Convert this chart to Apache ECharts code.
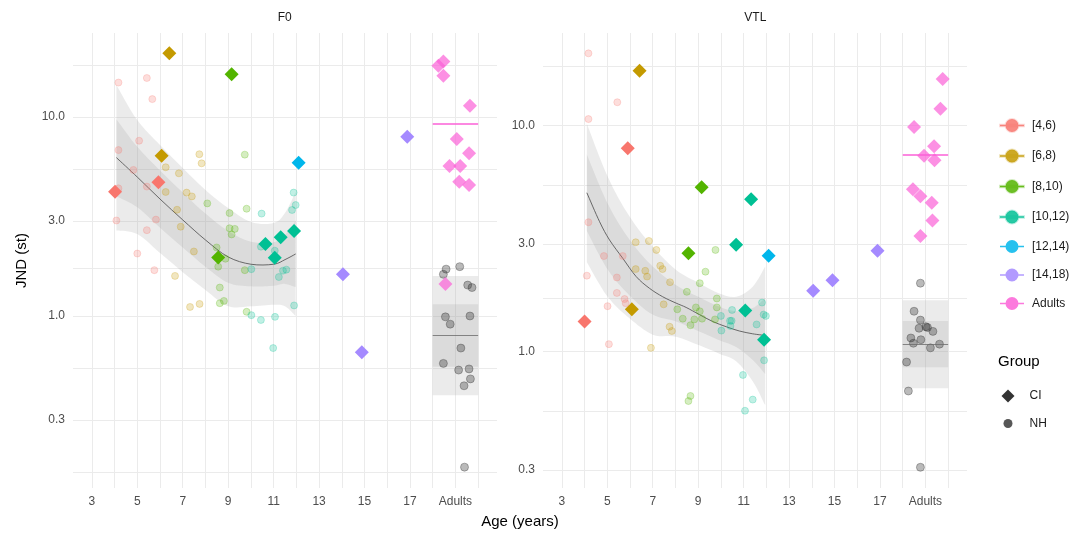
<!DOCTYPE html>
<html><head><meta charset="utf-8">
<script src="https://cdn.jsdelivr.net/npm/echarts@6/dist/echarts.min.js"></script>
<style>html,body{margin:0;padding:0;background:#fff}#c{width:1082px;height:533px}</style>
</head><body><div id="c"></div>
<script>
// ---------- categories / ticks ----------
const GROUPS = ['[4,6)','[6,8)','[8,10)','[10,12)','[12,14)','[14,18)','Adults'];
const COLORS = ['#F8766D','#C49A00','#53B400','#00C094','#00B6EB','#A58AFF','#FB61D7'];
const X_LABEL_TICKS = [3,5,7,9,11,13,15,17,19];
const ADULT_X = 19;
const Y_LABEL_TICKS = [0.3,1,3,10];

// ---------- F0 panel: [age, JND] ----------
const F0_NH_4_6 = [[4.17,14.9],[5.42,15.7],[5.66,12.3],[5.08,7.6],[4.17,6.82],[4.83,5.42],[5.42,4.47],[4.17,4.38],[4.08,3.02],[5.82,3.05],[5.42,2.70],[5.00,2.06],[5.75,1.70]];
const F0_NH_6_8 = [[7.73,6.50],[7.83,5.85],[6.25,5.59],[6.83,5.21],[6.25,4.20],[7.17,4.17],[7.40,3.99],[6.75,3.42],[6.91,2.81],[7.49,2.11],[6.66,1.59],[7.32,1.11],[7.74,1.15]];
const F0_NH_8_10 = [[9.73,6.47],[8.08,3.68],[9.06,3.29],[9.81,3.46],[9.06,2.76],[9.29,2.74],[9.15,2.57],[8.49,2.21],[8.88,1.94],[8.56,1.77],[9.73,1.70],[8.63,1.39],[8.81,1.19],[8.63,1.16],[9.81,1.05]];
const F0_NH_10_12 = [[10.47,3.27],[11.05,2.13],[10.02,1.72],[11.23,1.57],[11.41,1.69],[11.56,1.71],[11.88,4.17],[11.97,3.61],[11.81,3.41],[11.90,1.13],[10.02,1.01],[10.44,0.955],[11.06,0.99],[10.98,0.69],[10.44,2.23]];
const F0_NH_ADULT = [[18.59,1.72],[18.47,1.62],[19.19,1.77],[19.54,1.43],[19.73,1.39],[18.56,0.99],[18.77,0.91],[19.64,1.0],[19.24,0.69],[18.47,0.578],[19.14,0.535],[19.60,0.542],[19.66,0.483],[19.38,0.446],[19.40,0.174]];
const F0_CI_4_6 = [[4.02,4.21],[5.93,4.70]];
const F0_CI_6_8 = [[6.41,20.9],[6.07,6.39]];
const F0_CI_8_10 = [[9.15,16.4],[8.56,1.97]];
const F0_CI_10_12 = [[10.64,2.30],[11.05,1.96],[11.31,2.49],[11.90,2.67]];
const F0_CI_12_14 = [[12.10,5.89]];
const F0_CI_14_18 = [[16.88,7.96],[14.05,1.62],[14.88,0.657]];
const F0_CI_ADULT = [[18.25,18.1],[18.47,19.0],[18.47,16.1],[19.64,11.4],[19.06,7.75],[19.60,6.57],[18.74,5.67],[19.21,5.67],[19.17,4.73],[19.60,4.55],[18.56,1.45]];
// smooth fit and bands
const F0_FIT_AGE = [4.08,5,6,7,8,9,10,11,11.5,11.97];
const F0_FIT = [6.25,4.99,3.87,3.04,2.41,1.98,1.82,1.82,1.92,2.05];
const F0_OUTER_HI = [14.5,9.66,7.23,5.54,4.30,3.49,2.97,2.93,3.29,4.20];
const F0_OUTER_LO = [2.69,2.58,2.07,1.66,1.35,1.12,1.12,1.14,1.12,1.00];
const F0_INNER_HI = [9.75,7.08,5.39,4.18,3.27,2.67,2.36,2.35,2.56,3.00];
const F0_INNER_LO = [4.00,3.52,2.78,2.21,1.77,1.47,1.41,1.42,1.45,1.40];
// adults summary: [outerLo, innerLo, mean, innerHi, outerHi], CI mean
const F0_ADULT_NH_SUM = [0.40,0.556,0.80,1.145,1.59];
const F0_ADULT_CI_MEAN = 9.22;

// ---------- VTL panel ----------
const VTL_NH_4_6 = [[4.17,20.9],[5.44,12.7],[4.17,10.7],[4.17,3.74],[4.85,2.65],[5.68,2.65],[4.10,2.17],[5.42,2.13],[5.42,1.82],[5.01,1.59],[5.76,1.71],[5.81,1.64],[5.07,1.08]];
const VTL_NH_6_8 = [[6.25,3.05],[6.83,3.09],[7.16,2.82],[6.25,2.32],[6.67,2.28],[6.75,2.15],[7.33,2.40],[7.43,2.32],[7.76,2.03],[7.48,1.62],[7.74,1.29],[7.84,1.235],[6.92,1.04]];
const VTL_NH_8_10 = [[9.76,2.82],[9.32,2.26],[9.07,2.01],[8.50,1.84],[9.82,1.72],[9.82,1.57],[8.90,1.57],[9.07,1.51],[8.08,1.54],[8.32,1.40],[8.66,1.31],[8.83,1.39],[9.17,1.40],[9.74,1.39],[8.66,0.637],[8.57,0.605]];
const VTL_NH_10_12 = [[10.49,1.53],[10.0,1.44],[10.40,1.37],[10.47,1.37],[10.42,1.30],[10.02,1.24],[11.57,1.32],[11.81,1.65],[11.88,1.46],[11.98,1.44],[11.90,0.916],[10.97,0.789],[11.40,0.614],[11.06,0.548]];
const VTL_NH_ADULT = [[18.78,2.01],[18.50,1.51],[18.78,1.38],[18.72,1.27],[19.02,1.29],[19.09,1.28],[19.33,1.23],[18.36,1.15],[18.47,1.09],[18.80,1.13],[19.22,1.04],[19.62,1.08],[18.17,0.90],[18.25,0.67],[18.78,0.308]];
const VTL_CI_4_6 = [[5.90,7.94],[4.00,1.36]];
const VTL_CI_6_8 = [[6.42,17.5],[6.08,1.54]];
const VTL_CI_8_10 = [[9.15,5.34],[8.57,2.73]];
const VTL_CI_10_12 = [[10.67,2.97],[11.33,4.73],[11.07,1.52],[11.90,1.13]];
const VTL_CI_12_14 = [[12.10,2.66]];
const VTL_CI_14_18 = [[16.89,2.80],[14.06,1.86],[14.91,2.07]];
const VTL_CI_ADULT = [[19.76,16.1],[19.66,11.9],[18.50,9.87],[19.38,8.11],[18.94,7.37],[19.40,7.03],[18.45,5.23],[18.78,4.87],[19.28,4.56],[19.31,3.81],[18.78,3.25]];
const VTL_FIT_AGE = [4.10,4.66,5.10,5.68,6.27,6.85,7.44,8.03,8.47,9.05,9.64,10.23,10.81,11.40,11.95];
const VTL_FIT = [5.05,3.76,3.12,2.59,2.15,1.91,1.75,1.64,1.57,1.46,1.36,1.29,1.235,1.20,1.18];
const VTL_BAND_AGE = [4.10,5.02,5.98,7.0,8.03,9.05,9.93,10.67,11.40,11.95];
const VTL_OUTER_HI = [10.2,5.95,3.96,2.91,2.30,2.01,1.81,1.75,1.94,2.38];
const VTL_OUTER_LO = [2.49,1.75,1.405,1.19,1.166,1.067,0.980,0.907,0.740,0.579];
const VTL_INNER_HI = [7.46,4.52,3.13,2.38,1.97,1.74,1.58,1.51,1.56,1.73];
const VTL_INNER_LO = [3.42,2.31,1.775,1.46,1.36,1.23,1.125,1.05,0.919,0.796];
const VTL_ADULT_NH_SUM = [0.689,0.853,1.078,1.367,1.69];
const VTL_ADULT_CI_MEAN = 7.47;

// ---------- helpers ----------
const L = v => Math.log10(v);
const pts = arr => arr.map(d => [d[0], L(d[1])]);
function rgba(hex, a){const n=parseInt(hex.slice(1),16);return `rgba(${n>>16&255},${n>>8&255},${n&255},${a})`;}
const FONT = '"Liberation Sans", Arial, sans-serif';
const GRID_COL = '#ebebeb';
const BAND_COL = 'rgba(153,153,153,0.2)';

// gridline positions derived from tick lists
const yMaj = Y_LABEL_TICKS.map(L);
const yGrid = [];
yMaj.forEach((v,i)=>{ if(i===0) yGrid.push(v-(yMaj[1]-yMaj[0])/2); yGrid.push(v); if(i<yMaj.length-1) yGrid.push((v+yMaj[i+1])/2); else yGrid.push(v+(v-yMaj[i-1])/2); });
const xGrid = [];
X_LABEL_TICKS.forEach((v,i)=>{ xGrid.push(v); xGrid.push(i<X_LABEL_TICKS.length-1 ? (v+X_LABEL_TICKS[i+1])/2 : v+1); });

// Catmull-Rom curve through pixel points (drawing only)
function curve(p, start){
  let d = start ? `M${p[0][0]},${p[0][1]}` : `L${p[0][0]},${p[0][1]}`;
  for(let i=0;i<p.length-1;i++){
    const p0=p[i-1]||p[i], p1=p[i], p2=p[i+1], p3=p[i+2]||p[i+1];
    const c1=[p1[0]+(p2[0]-p0[0])/6, p1[1]+(p2[1]-p0[1])/6];
    const c2=[p2[0]-(p3[0]-p1[0])/6, p2[1]-(p3[1]-p1[1])/6];
    d += ` C${c1[0]},${c1[1]} ${c2[0]},${c2[1]} ${p2[0]},${p2[1]}`;
  }
  return d;
}
function bandSeries(idx, ages, lo, hi){
  return {type:'custom', xAxisIndex:idx, yAxisIndex:idx, silent:true, z:1, clip:true,
    data:[[ages[0], L(lo[0])]],
    renderItem:(params, api)=>{
      const up = ages.map((a,i)=>api.coord([a, L(hi[i])]));
      const dn = ages.map((a,i)=>api.coord([a, L(lo[i])])).reverse();
      const d = curve(up, true) + ' ' + curve(dn, false) + ' Z';
      return {type:'path', shape:{pathData:d}, style:{fill:BAND_COL, stroke:null}};
    }};
}
function fitSeries(idx, ages, fit){
  return {type:'custom', xAxisIndex:idx, yAxisIndex:idx, silent:true, z:2, clip:true,
    data:[[ages[0], L(fit[0])]],
    renderItem:(params, api)=>{
      const p = ages.map((a,i)=>api.coord([a, L(fit[i])]));
      return {type:'path', shape:{pathData:curve(p,true)}, style:{fill:null, stroke:'#5a5a5a', lineWidth:0.9}};
    }};
}
function adultSummary(idx, sum, ciMean){
  return {type:'scatter', xAxisIndex:idx, yAxisIndex:idx, data:[], silent:true, z:1,
    markArea:{silent:true, itemStyle:{color:BAND_COL}, label:{show:false},
      data:[[{coord:[ADULT_X-1, L(sum[0])]},{coord:[ADULT_X+1, L(sum[4])]}],
            [{coord:[ADULT_X-1, L(sum[1])]},{coord:[ADULT_X+1, L(sum[3])]}]]},
    markLine:{silent:true, symbol:['none','none'], label:{show:false}, animation:false,
      data:[[{coord:[ADULT_X-1, L(sum[2])], lineStyle:{color:'#6b6b6b', width:0.8, type:'solid'}},{coord:[ADULT_X+1, L(sum[2])]}],
            [{coord:[ADULT_X-1, L(ciMean)], lineStyle:{color:'#FB61D7', width:1.6, type:'solid'}},{coord:[ADULT_X+1, L(ciMean)]}]]}
  };
}
function nh(idx, gi, arr){
  const c = COLORS[gi];
  return {type:'scatter', name:GROUPS[gi], xAxisIndex:idx, yAxisIndex:idx, symbol:'circle', symbolSize:7, silent:true, z:3,
    itemStyle:{color:rgba(c,0.3), borderColor:rgba(c,0.3), borderWidth:1}, data:pts(arr)};
}
function nhAdult(idx, arr){
  return {type:'scatter', name:'NH', xAxisIndex:idx, yAxisIndex:idx, symbol:'circle', symbolSize:8, silent:true, z:3,
    itemStyle:{color:'rgba(40,40,40,0.4)', borderColor:'rgba(40,40,40,0.4)', borderWidth:1}, data:pts(arr)};
}
function ci(idx, gi, arr, op){
  return {type:'scatter', name:GROUPS[gi], xAxisIndex:idx, yAxisIndex:idx, symbol:'diamond', symbolSize:14, silent:true, z:4,
    itemStyle:{color:COLORS[gi], opacity:op||1}, data:pts(arr)};
}

const series = [
  bandSeries(0, F0_FIT_AGE, F0_OUTER_LO, F0_OUTER_HI),
  bandSeries(0, F0_FIT_AGE, F0_INNER_LO, F0_INNER_HI),
  fitSeries(0, F0_FIT_AGE, F0_FIT),
  adultSummary(0, F0_ADULT_NH_SUM, F0_ADULT_CI_MEAN),
  nh(0,0,F0_NH_4_6), nh(0,1,F0_NH_6_8), nh(0,2,F0_NH_8_10), nh(0,3,F0_NH_10_12), nhAdult(0,F0_NH_ADULT),
  ci(0,0,F0_CI_4_6), ci(0,1,F0_CI_6_8), ci(0,2,F0_CI_8_10), ci(0,3,F0_CI_10_12), ci(0,4,F0_CI_12_14), ci(0,5,F0_CI_14_18), ci(0,6,F0_CI_ADULT,0.7),

  bandSeries(1, VTL_BAND_AGE, VTL_OUTER_LO, VTL_OUTER_HI),
  bandSeries(1, VTL_BAND_AGE, VTL_INNER_LO, VTL_INNER_HI),
  fitSeries(1, VTL_FIT_AGE, VTL_FIT),
  adultSummary(1, VTL_ADULT_NH_SUM, VTL_ADULT_CI_MEAN),
  nh(1,0,VTL_NH_4_6), nh(1,1,VTL_NH_6_8), nh(1,2,VTL_NH_8_10), nh(1,3,VTL_NH_10_12), nhAdult(1,VTL_NH_ADULT),
  ci(1,0,VTL_CI_4_6), ci(1,1,VTL_CI_6_8), ci(1,2,VTL_CI_8_10), ci(1,3,VTL_CI_10_12), ci(1,4,VTL_CI_12_14), ci(1,5,VTL_CI_14_18), ci(1,6,VTL_CI_ADULT,0.7),
  {type:'scatter', name:'CI', data:[], xAxisIndex:0, yAxisIndex:0, symbol:'diamond', itemStyle:{color:'#000'}}
];

function xAxis(gi){
  return {type:'value', gridIndex:gi, min:2.17, max:20.83,
    axisLine:{show:false}, axisTick:{show:false, customValues:xGrid},
    splitLine:{show:true, lineStyle:{color:GRID_COL, width:1}},
    axisLabel:{customValues:X_LABEL_TICKS, color:'#4d4d4d', fontSize:12, fontFamily:FONT, margin:8,
      formatter: v => v===ADULT_X ? 'Adults' : String(v)}};
}
function yAxis(gi, min, max){
  return {type:'value', gridIndex:gi, min, max,
    axisLine:{show:false}, axisTick:{show:false, customValues:yGrid},
    splitLine:{show:true, lineStyle:{color:GRID_COL, width:1}},
    axisLabel:{customValues:yMaj, color:'#4d4d4d', fontSize:12, fontFamily:FONT, margin:8,
      formatter: v => Math.pow(10,v).toFixed(1)}};
}

const legendIcon = 'path://M0,6.3L24,6.3L24,7.7L0,7.7Z M18.5,7A6.5,6.5 0 1 1 5.5,7A6.5,6.5 0 1 1 18.5,7Z';

const option = {
  animation:false,
  backgroundColor:'#fff',
  grid:[{left:73, top:33, width:424, height:455},{left:543, top:33, width:424, height:455}],
  xAxis:[xAxis(0), xAxis(1)],
  yAxis:[yAxis(0, -0.8643, 1.4221), yAxis(1, -0.6031, 1.4102)],
  legend:[
    {orient:'vertical', left:994, top:113, itemWidth:24, itemHeight:14, itemGap:15.5, selectedMode:false,
     textStyle:{color:'#1a1a1a', fontSize:12, fontFamily:FONT, padding:[0,0,0,3]},
     data: GROUPS.map((g,i)=>({name:g, icon:legendIcon, itemStyle:{color:COLORS[i], opacity:0.85}}))},
    {orient:'vertical', left:996.5, top:384.5, itemWidth:13, itemHeight:13, selectedMode:false,
     textStyle:{color:'#1a1a1a', fontSize:12, fontFamily:FONT, padding:[0,0,0,10]},
     data:[{name:'CI', icon:'diamond', itemStyle:{color:'#000'}}]},
    {orient:'vertical', left:998.5, top:412.5, itemWidth:9, itemHeight:9, selectedMode:false,
     textStyle:{color:'#1a1a1a', fontSize:12, fontFamily:FONT, padding:[0,0,0,12]},
     data:[{name:'NH', icon:'circle', itemStyle:{color:'#3a3a3a', opacity:0.85, borderWidth:0}}]}
  ],
  graphic:[
    {type:'text', x:284.7, y:18, style:{text:'F0', fill:'#1a1a1a', font:'12px '+FONT, align:'center', verticalAlign:'middle', textAlign:'center', textVerticalAlign:'middle'}},
    {type:'text', x:755.3, y:18, style:{text:'VTL', fill:'#1a1a1a', font:'12px '+FONT, align:'center', verticalAlign:'middle', textAlign:'center', textVerticalAlign:'middle'}},
    {type:'text', x:520, y:522, style:{text:'Age (years)', fill:'#000', font:'15px '+FONT, align:'center', verticalAlign:'middle', textAlign:'center', textVerticalAlign:'middle'}},
    {type:'text', x:22, y:260.5, rotation:Math.PI/2, style:{text:'JND (st)', fill:'#000', font:'15px '+FONT, align:'center', verticalAlign:'middle', textAlign:'center', textVerticalAlign:'middle'}},
    {type:'text', x:998, y:362, style:{text:'Group', fill:'#000', font:'15px '+FONT, align:'left', verticalAlign:'middle', textAlign:'left', textVerticalAlign:'middle'}}
  ],
  series
};
const chart = echarts.init(document.getElementById('c'), null, {renderer:'canvas'});
chart.setOption(option);
</script></body></html>
